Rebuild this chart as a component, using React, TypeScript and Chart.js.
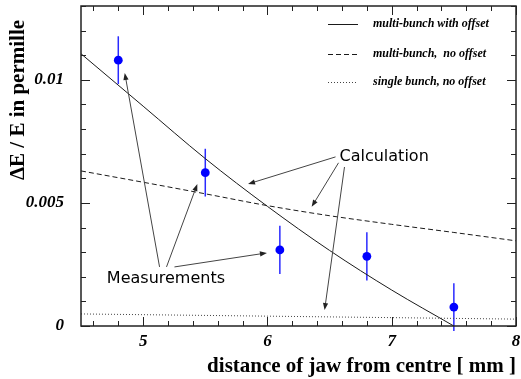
import { useEffect, useRef } from 'react';
import { Chart, registerables } from 'chart.js';
Chart.register(...registerables);

// Measurements
const measX = [4.8, 5.5, 6.1, 6.8, 7.5];
const measY = [0.0108, 0.00623, 0.00309, 0.00283, 0.00077];
const measErr = [0.00097, 0.00097, 0.00098, 0.00098, 0.00097];

// Calculations
const multiOffsetX = [4.5, 5.0, 5.5, 6.0, 6.5, 7.0, 7.5];
const multiOffsetY = [0.01106, 0.00893, 0.0068, 0.00486, 0.00307, 0.00146, 0.0];
const calcX = [4.5, 5.0, 5.5, 6.0, 6.5, 7.0, 7.5, 8.0];
const multiNoOffsetY = [0.0063, 0.00584, 0.00537, 0.00489, 0.00448, 0.00413, 0.0038, 0.00346];
const singleNoOffsetY = [0.00049, 0.00046, 0.00043, 0.0004, 0.00037, 0.00034, 0.00031, 0.00028];

// Axes
const xMajorTicks = [5, 6, 7, 8];
const xTickLabels = ['5', '6', '7', '8'];
const yMajorTicks = [0, 0.005, 0.01];
const yTickLabels = ['0', '0.005', '0.01'];
const xMinorStep = 0.2;
const yMinorStep = 0.001;
const xTitle = 'distance of jaw from centre [ mm ]';
const yTitle = 'ΔE / E in permille';

// Legend
const legendLabels = ['multi-bunch with offset', 'multi-bunch,  no offset', 'single bunch, no offset'];

// Annotations (data coordinates)
const calcLabel = { text: 'Calculation', x: 6.58, y: 0.00669 };
const calcArrows = [
  [6.548, 0.00687, 5.844, 0.00577],
  [6.572, 0.00663, 6.356, 0.00484],
  [6.62, 0.00646, 6.46, 0.00065],
];
const measLabel = { text: 'Measurements', x: 4.708, y: 0.00175 };
const measArrows = [
  [5.132, 0.0024, 4.852, 0.01028],
  [5.188, 0.0024, 5.436, 0.00577],
  [5.252, 0.0024, 5.996, 0.00297],
];

const SERIF = '"Liberation Serif", "Times New Roman", serif';
const SANS = '"DejaVu Sans", sans-serif';

function arrow(ctx: CanvasRenderingContext2D, x1: number, y1: number, x2: number, y2: number) {
  const ang = Math.atan2(y2 - y1, x2 - x1);
  const L = 7, W = 2.6;
  ctx.beginPath();
  ctx.moveTo(x1, y1);
  ctx.lineTo(x2 - Math.cos(ang) * (L - 1), y2 - Math.sin(ang) * (L - 1));
  ctx.stroke();
  ctx.beginPath();
  ctx.moveTo(x2, y2);
  ctx.lineTo(x2 - Math.cos(ang) * L + Math.sin(ang) * W, y2 - Math.sin(ang) * L - Math.cos(ang) * W);
  ctx.lineTo(x2 - Math.cos(ang) * L - Math.sin(ang) * W, y2 - Math.sin(ang) * L + Math.cos(ang) * W);
  ctx.closePath();
  ctx.fill();
}

const overlay = {
  id: 'overlay',
  beforeDatasetsDraw(chart: any) {
    const { ctx, scales } = chart;
    const xs = scales.x, ys = scales.y;
    ctx.save();
    ctx.strokeStyle = '#2a2aff';
    ctx.lineWidth = 1.5;
    measX.forEach((x, i) => {
      const px = xs.getPixelForValue(x);
      ctx.beginPath();
      ctx.moveTo(px, ys.getPixelForValue(measY[i] - measErr[i]));
      ctx.lineTo(px, ys.getPixelForValue(measY[i] + measErr[i]));
      ctx.stroke();
    });
    ctx.restore();
  },
  afterDraw(chart: any) {
    const { ctx, scales, chartArea: a } = chart;
    const xs = scales.x, ys = scales.y;
    ctx.save();
    // frame
    ctx.strokeStyle = '#222';
    ctx.lineWidth = 1.5;
    ctx.strokeRect(a.left, a.top, a.right - a.left, a.bottom - a.top);
    // ticks
    ctx.lineWidth = 1;
    ctx.beginPath();
    const xmin = xs.min, xmax = xs.max;
    for (let k = Math.ceil(xmin / xMinorStep - 1e-6); k * xMinorStep <= xmax + 1e-9; k++) {
      const v = k * xMinorStep;
      const major = xMajorTicks.some((m) => Math.abs(m - v) < 1e-6);
      const len = major ? 9 : 5;
      const px = Math.round(xs.getPixelForValue(v)) + 0.5;
      ctx.moveTo(px, a.bottom);
      ctx.lineTo(px, a.bottom - len);
      ctx.moveTo(px, a.top);
      ctx.lineTo(px, a.top + len);
    }
    for (let k = 0; k * yMinorStep <= ys.max + 1e-9; k++) {
      const v = k * yMinorStep;
      const major = yMajorTicks.some((m) => Math.abs(m - v) < 1e-9);
      const len = major ? 9 : 5;
      const py = Math.round(ys.getPixelForValue(v)) + 0.5;
      ctx.moveTo(a.left, py);
      ctx.lineTo(a.left + len, py);
      ctx.moveTo(a.right, py);
      ctx.lineTo(a.right - len, py);
    }
    ctx.stroke();

    // legend
    const ds = chart.data.datasets;
    ctx.font = `italic bold 12px ${SERIF}`;
    ctx.textBaseline = 'middle';
    ctx.textAlign = 'left';
    legendLabels.forEach((lab, i) => {
      const d = ds[i];
      const y = a.top + 18 + [0, 30, 58][i];
      ctx.save();
      ctx.strokeStyle = d.borderColor;
      ctx.lineWidth = 1;
      ctx.setLineDash(d.borderDash || []);
      ctx.beginPath();
      ctx.moveTo(a.right - 188, y + 0.5);
      ctx.lineTo(a.right - 158, y + 0.5);
      ctx.stroke();
      ctx.restore();
      ctx.fillStyle = '#000';
      ctx.fillText(lab, a.right - 143, y);
    });

    // annotations
    ctx.strokeStyle = '#444';
    ctx.fillStyle = '#222';
    ctx.lineWidth = 1;
    [...calcArrows, ...measArrows].forEach(([x1, y1, x2, y2]) => {
      arrow(ctx, xs.getPixelForValue(x1), ys.getPixelForValue(y1), xs.getPixelForValue(x2), ys.getPixelForValue(y2));
    });
    ctx.fillStyle = '#000';
    ctx.font = `16px ${SANS}`;
    ctx.textBaseline = 'alphabetic';
    ctx.fillText(calcLabel.text, xs.getPixelForValue(calcLabel.x), ys.getPixelForValue(calcLabel.y));
    ctx.fillText(measLabel.text, xs.getPixelForValue(measLabel.x), ys.getPixelForValue(measLabel.y));

    // axis titles
    ctx.font = `bold 21px ${SERIF}`;
    ctx.textAlign = 'right';
    ctx.textBaseline = 'alphabetic';
    ctx.fillText(xTitle, a.right, a.bottom + 46);
    ctx.save();
    ctx.translate(a.left - 62, a.top + 94);
    ctx.rotate(-Math.PI / 2);
    ctx.textAlign = 'center';
    ctx.textBaseline = 'middle';
    ctx.fillText(yTitle, 0, 0);
    ctx.restore();
    ctx.restore();
  },
};

export default function App() {
  const ref = useRef<HTMLCanvasElement>(null);
  useEffect(() => {
    if (!ref.current) return;
    const tickFont = { family: SERIF, size: 17, weight: 'bold' as const, style: 'italic' as const };
    const chart = new Chart(ref.current, {
      type: 'line',
      data: {
        datasets: [
          {
            label: legendLabels[0],
            data: multiOffsetX.map((x, i) => ({ x, y: multiOffsetY[i] })),
            borderColor: '#1a1a1a',
            borderWidth: 1,
            pointRadius: 0,
            cubicInterpolationMode: 'monotone',
          },
          {
            label: legendLabels[1],
            data: calcX.map((x, i) => ({ x, y: multiNoOffsetY[i] })),
            borderColor: '#1a1a1a',
            borderWidth: 1,
            borderDash: [5, 3],
            pointRadius: 0,
            cubicInterpolationMode: 'monotone',
          },
          {
            label: legendLabels[2],
            data: calcX.map((x, i) => ({ x, y: singleNoOffsetY[i] })),
            borderColor: '#444',
            borderWidth: 1,
            borderDash: [1, 2],
            pointRadius: 0,
          },
          {
            type: 'scatter',
            label: 'Measurements',
            data: measX.map((x, i) => ({ x, y: measY[i] })),
            showLine: false,
            pointRadius: 4.4,
            pointBackgroundColor: '#0000ff',
            pointBorderWidth: 0,
          } as any,
        ],
      },
      options: {
        responsive: false,
        animation: false,
        layout: { padding: { top: 6, right: 5, left: 0, bottom: 0 } },
        plugins: { legend: { display: false }, tooltip: { enabled: false } },
        scales: {
          x: {
            type: 'linear',
            min: 4.5,
            max: 8,
            afterBuildTicks: (s: any) => { s.ticks = xMajorTicks.map((v) => ({ value: v })); },
            afterFit: (s: any) => { s.height = 53; s.paddingLeft = 0; s.paddingRight = 0; },
            grid: { display: false, drawTicks: false },
            border: { display: false },
            ticks: {
              font: tickFont,
              color: '#000',
              padding: 5,
              maxRotation: 0,
              autoSkip: false,
              callback: (v: any) => xTickLabels[xMajorTicks.indexOf(Number(v))],
            },
          },
          y: {
            type: 'linear',
            min: 0,
            max: 0.013,
            afterBuildTicks: (s: any) => { s.ticks = yMajorTicks.map((v) => ({ value: v })); },
            afterFit: (s: any) => { s.width = 81; s.paddingTop = 0; s.paddingBottom = 0; },
            grid: { display: false, drawTicks: false },
            border: { display: false },
            ticks: {
              font: tickFont,
              color: '#000',
              padding: 17,
              autoSkip: false,
              callback: (v: any) => yTickLabels[yMajorTicks.indexOf(Number(v))],
            },
          },
        },
      },
      plugins: [overlay],
    } as any);
    return () => chart.destroy();
  }, []);
  return (
    <div style={{ position: 'fixed', left: 0, top: 0, width: 521, height: 379, background: '#fff' }}>
      <canvas ref={ref} width={521} height={379} />
    </div>
  );
}
